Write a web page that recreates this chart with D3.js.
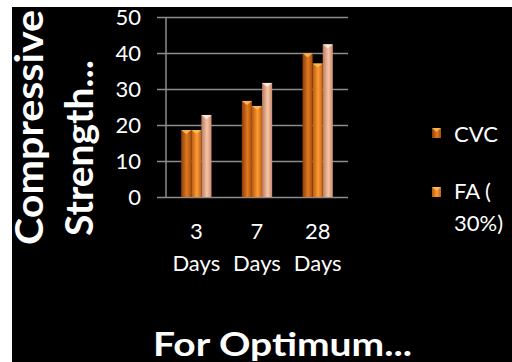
<!DOCTYPE html>
<html>
<head>
<meta charset="utf-8">
<script src="https://cdn.jsdelivr.net/npm/d3@7"></script>
<style>
  body { margin: 0; background: #fff; }
  svg { display: block; }
  text { font-family: Lato, "Open Sans", sans-serif; fill: #fff; }
</style>
</head>
<body>
<svg id="chart" width="512" height="362"></svg>
<script>
// data
var categories = ["3 Days", "7 Days", "28 Days"];
var series = ["CVC", "FA ( 30%)", "Series3"];
var cvc = [18.6, 26.7, 39.9];
var fa30 = [18.6, 25.3, 37.1];
var s3 = [22.8, 31.7, 42.4];
var yTicks = [0, 10, 20, 30, 40, 50];
var legendNames = ["CVC", "FA (", "30%)"];

var values = [cvc, fa30, s3];

var svg = d3.select("#chart");

// black slide area
svg.append("rect")
  .attr("x", 12).attr("y", 7)
  .attr("width", 500).attr("height", 355)
  .attr("fill", "#000");

var x = d3.scaleBand()
  .domain(categories)
  .range([166, 348])
  .paddingInner(0.5)
  .paddingOuter(0.25);

var xInner = d3.scaleBand()
  .domain(d3.range(series.length))
  .range([0, x.bandwidth()]);

var y = d3.scaleLinear()
  .domain([0, 50])
  .range([197, 17]);

// gradients for the bars
var colours = [
  ["#8a3c08", "#e07a22", "#a84c0c"],
  ["#b35a10", "#ff9a34", "#c46414"],
  ["#b87a60", "#f8c4a6", "#c88c70"]
];
var defs = svg.append("defs");
colours.forEach(function(c, i) {
  var g = defs.append("linearGradient")
    .attr("id", "g" + i)
    .attr("x1", "0").attr("x2", "1").attr("y1", "0").attr("y2", "0");
  g.append("stop").attr("offset", "0%").attr("stop-color", c[0]);
  g.append("stop").attr("offset", "55%").attr("stop-color", c[1]);
  g.append("stop").attr("offset", "100%").attr("stop-color", c[2]);
});

// gridlines and ticks
var yAxis = d3.axisLeft(y)
  .tickValues(yTicks)
  .tickSize(-(348 - 166))
  .tickPadding(25);

var gy = svg.append("g")
  .attr("transform", "translate(166,0)")
  .call(yAxis);
gy.select(".domain").remove();
gy.selectAll(".tick line")
  .attr("x1", -9)
  .attr("stroke", "#8c8c8c")
  .attr("stroke-width", 1.5);
gy.selectAll(".tick text")
  .attr("font-size", 22)
  .attr("fill", "#fff")
  .style("font-family", "Lato, sans-serif");

// vertical axis line
svg.append("line")
  .attr("x1", 166).attr("x2", 166)
  .attr("y1", y(50)).attr("y2", y(0))
  .attr("stroke", "#8c8c8c")
  .attr("stroke-width", 1.5);

// bars
var rows = [];
categories.forEach(function(cat, ci) {
  values.forEach(function(v, si) {
    rows.push({cat: cat, s: si, v: v[ci]});
  });
});

var bars = svg.append("g");
bars.selectAll("rect")
  .data(rows)
  .join("rect")
  .attr("x", function(d) { return x(d.cat) + xInner(d.s); })
  .attr("y", function(d) { return y(d.v); })
  .attr("width", xInner.bandwidth())
  .attr("height", function(d) { return y(0) - y(d.v); })
  .attr("fill", function(d) { return "url(#g" + d.s + ")"; });

// little bevel on top of each bar
bars.selectAll("path")
  .data(rows)
  .join("path")
  .attr("d", function(d) {
    var x0 = x(d.cat) + xInner(d.s), w = xInner.bandwidth(), t = y(d.v);
    return "M" + x0 + "," + t + "L" + (x0 + w) + "," + t + "L" + (x0 + w / 2) + "," + (t + 4) + "Z";
  })
  .attr("fill", function(d) { return d.s === 2 ? "#fff0e4" : "#ffc060"; })
  .attr("opacity", 0.85);

// x labels
var xl = svg.append("g");
categories.forEach(function(cat) {
  var parts = cat.split(" ");
  var cx = x(cat) + x.bandwidth() / 2;
  var t = xl.append("text")
    .attr("text-anchor", "middle")
    .attr("font-size", 22)
    .attr("y", 239);
  t.append("tspan").attr("x", cx).text(parts[0]);
  t.append("tspan").attr("x", cx).attr("dy", 32).text(parts[1]);
});

// axis titles
svg.append("text")
  .attr("transform", "translate(43,245) rotate(-90)")
  .attr("font-size", 39)
  .attr("font-weight", "bold")
  .attr("textLength", 235)
  .attr("lengthAdjust", "spacingAndGlyphs")
  .text("Compressive");
svg.append("text")
  .attr("transform", "translate(93,236) rotate(-90)")
  .attr("font-size", 39)
  .attr("font-weight", "bold")
  .attr("textLength", 176)
  .attr("lengthAdjust", "spacingAndGlyphs")
  .text("Strength...");

svg.append("text")
  .attr("x", 153).attr("y", 356)
  .attr("font-size", 33)
  .attr("font-weight", "bold")
  .attr("textLength", 259)
  .attr("lengthAdjust", "spacingAndGlyphs")
  .text("For Optimum...");

// legend (only two entries fit)
var legend = svg.append("g");
[0, 1].forEach(function(i) {
  var ly = i === 0 ? 128 : 187;
  legend.append("rect")
    .attr("x", 432).attr("y", ly)
    .attr("width", 9).attr("height", 10)
    .attr("fill", "url(#g" + i + ")");
  legend.append("path")
    .attr("d", "M432," + ly + "L441," + ly + "L436.5," + (ly + 4) + "Z")
    .attr("fill", "#ffc060").attr("opacity", 0.85);
});
legend.append("text").attr("x", 454).attr("y", 142).attr("font-size", 22).text(legendNames[0]);
legend.append("text").attr("x", 454).attr("y", 199).attr("font-size", 22).text(legendNames[1]);
legend.append("text").attr("x", 454).attr("y", 231).attr("font-size", 22).text(legendNames[2]);
</script>
</body>
</html>
